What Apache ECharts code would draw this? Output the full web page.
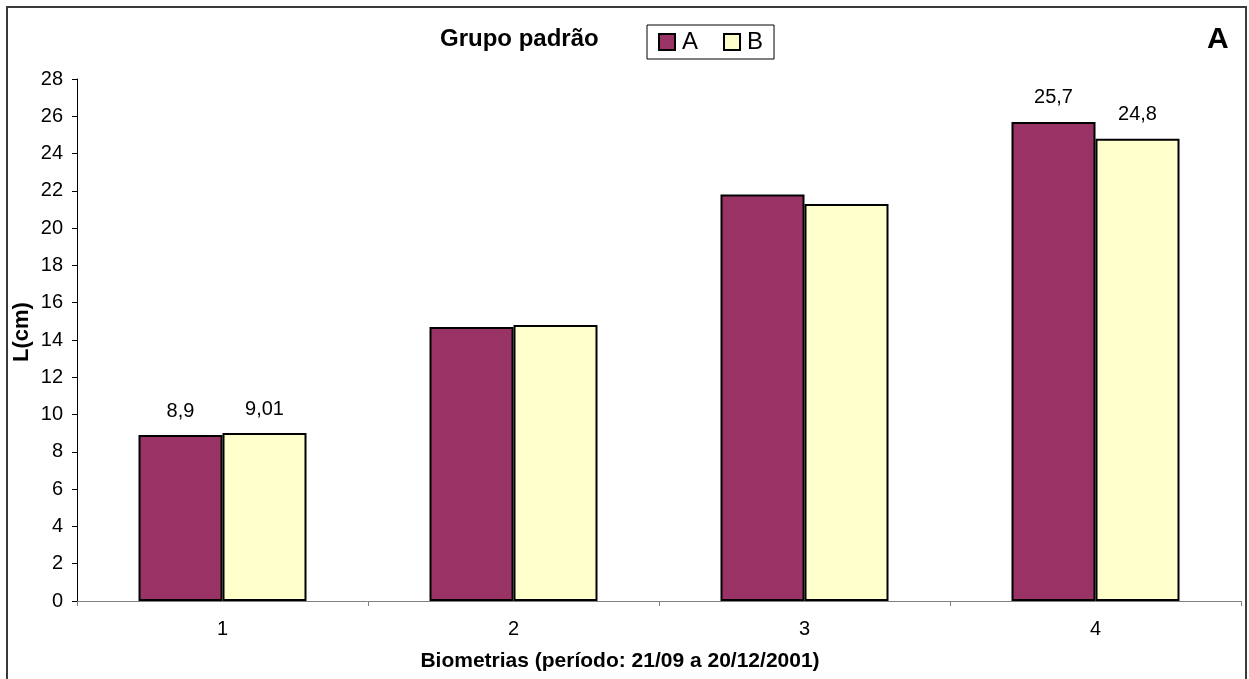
<!DOCTYPE html>
<html>
<head>
<meta charset="utf-8">
<script src="https://cdn.jsdelivr.net/npm/echarts@6/dist/echarts.min.js"></script>
<style>
  html, body { margin: 0; padding: 0; background: #ffffff; }
  #chart { width: 1249px; height: 679px; }
</style>
</head>
<body>
<div id="chart"></div>
<script>
// Biometry rounds (x axis) and body length L (cm) for the two groups
const categories = ['1', '2', '3', '4'];
const seriesA = [8.9, 14.7, 21.8, 25.7];
const seriesB = [9.01, 14.8, 21.3, 24.8];
const labelledRounds = [0, 3]; // rounds whose values are printed above the bars
const yTicks = { min: 0, max: 28, interval: 2 };

const FONT = '"Liberation Sans", Arial, sans-serif';

const toComma = v => String(v).replace('.', ',');

function withLabels(values) {
  return values.map((v, i) => ({
    value: v,
    label: { show: labelledRounds.indexOf(i) >= 0 }
  }));
}

const chart = echarts.init(document.getElementById('chart'), null, { renderer: 'canvas' });

const barLabel = {
  position: 'top',
  distance: 14,
  color: '#000',
  fontFamily: FONT,
  fontSize: 20,
  formatter: p => toComma(p.value)
};

chart.setOption({
  backgroundColor: '#ffffff',
  animation: false,
  title: {
    text: 'Grupo padrão',
    left: 440,
    top: 27,
    padding: 0,
    textStyle: { fontFamily: FONT, fontSize: 24, fontWeight: 'bold', color: '#000' }
  },
  legend: {
    left: 647,
    top: 25,
    padding: [5, 11, 5, 11],
    itemGap: 25,
    itemWidth: 16,
    itemHeight: 16,
    borderColor: '#000',
    borderWidth: 1,
    icon: 'rect',
    textStyle: { fontFamily: FONT, fontSize: 24, color: '#000', padding: [0, 0, 0, 2] },
    data: ['A', 'B']
  },
  graphic: [
    {
      type: 'rect',
      silent: true,
      shape: { x: 7, y: 7, width: 1239, height: 690 },
      style: { fill: 'none', stroke: '#3a3a3a', lineWidth: 2 }
    },
    {
      type: 'text',
      silent: true,
      style: {
        x: 1207, y: 40,
        text: 'A',
        font: 'bold 30px ' + FONT,
        fill: '#000',
        textAlign: 'left',
        textVerticalAlign: 'middle'
      }
    }
  ],
  grid: { left: 77, right: 8, top: 79, bottom: 78 },
  xAxis: {
    type: 'category',
    data: categories,
    name: 'Biometrias (período: 21/09 a 20/12/2001)',
    nameLocation: 'middle',
    nameGap: 50,
    nameMoveOverlap: false,
    nameTextStyle: { fontFamily: FONT, fontSize: 21, fontWeight: 'bold', color: '#000', padding: [0, 78, 0, 0] },
    axisLine: { lineStyle: { color: '#808080', width: 1 } },
    axisTick: { show: true, length: 5, lineStyle: { color: '#808080' } },
    axisLabel: { fontFamily: FONT, fontSize: 20, color: '#000', margin: 18 },
    splitLine: { show: false }
  },
  yAxis: {
    type: 'value',
    min: yTicks.min,
    max: yTicks.max,
    interval: yTicks.interval,
    name: 'L(cm)',
    nameLocation: 'middle',
    nameGap: 44,
    nameMoveOverlap: false,
    nameRotate: 90,
    nameTextStyle: { fontFamily: FONT, fontSize: 22, fontWeight: 'bold', color: '#000', padding: [0, 0, 0, 16] },
    axisLine: { show: true, lineStyle: { color: '#000', width: 1 } },
    axisTick: { show: true, length: 5, lineStyle: { color: '#000' } },
    axisLabel: { fontFamily: FONT, fontSize: 20, color: '#000', margin: 14 },
    splitLine: { show: false }
  },
  series: [
    {
      name: 'A',
      type: 'bar',
      data: withLabels(seriesA),
      barWidth: 84,
      barGap: '0%',
      itemStyle: { color: '#993366', borderColor: '#000', borderWidth: 2 },
      label: barLabel
    },
    {
      name: 'B',
      type: 'bar',
      data: withLabels(seriesB),
      barWidth: 84,
      barGap: '0%',
      itemStyle: { color: '#FFFFCC', borderColor: '#000', borderWidth: 2 },
      label: barLabel
    }
  ]
});
</script>
</body>
</html>
